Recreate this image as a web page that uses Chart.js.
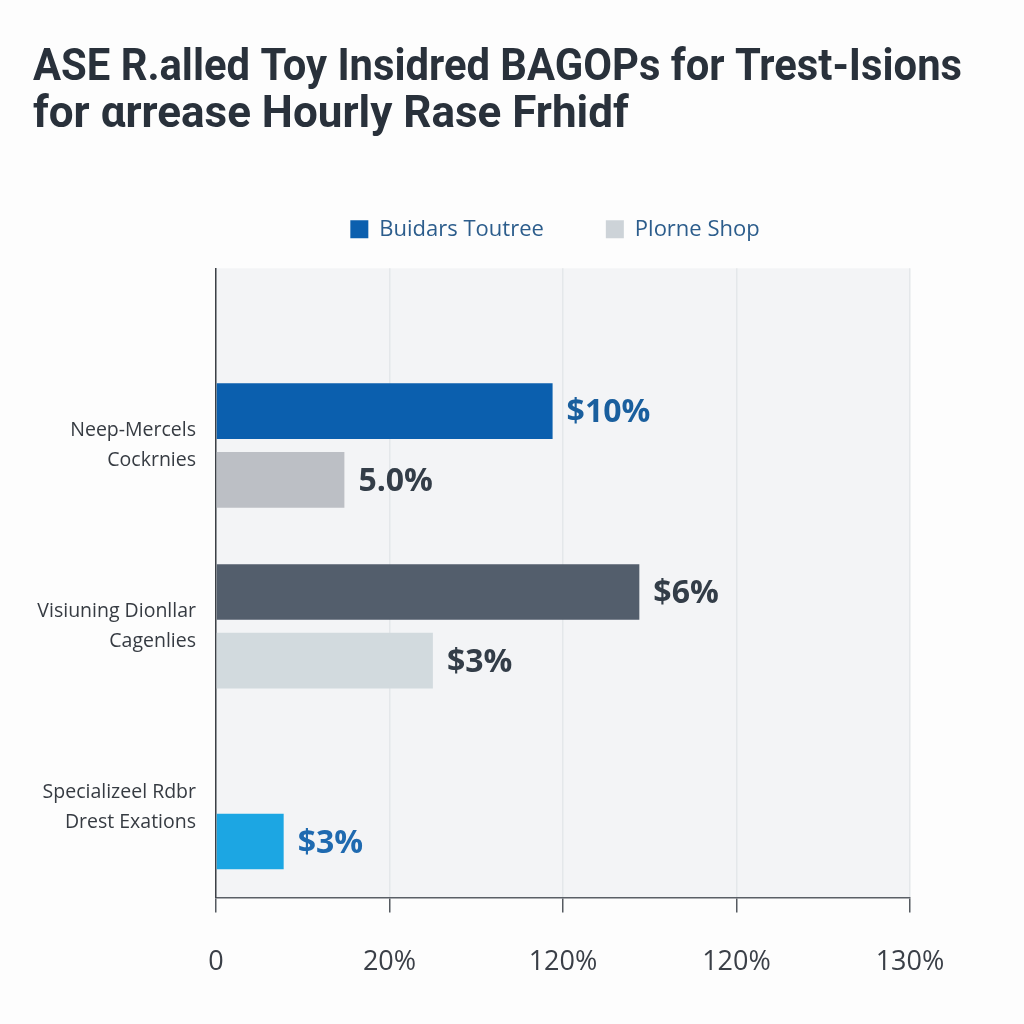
<!DOCTYPE html>
<html>
<head>
<meta charset="utf-8">
<script src="https://cdn.jsdelivr.net/npm/chart.js@4"></script>
<style>
  html, body { margin: 0; padding: 0; background: #fdfdfd; }
  #wrap { width: 1024px; height: 1024px; }
</style>
</head>
<body>
<div id="wrap"><canvas id="chart" width="1024" height="1024"></canvas></div>
<script>
// categories (two-line labels)
const categories = [
  ['Neep-Mercels', 'Cockrnies'],
  ['Visiuning Dionllar', 'Cagenlies'],
  ['Specializeel Rdbr', 'Drest Exations']
];
const seriesNames = ['Buidars Toutree', 'Plorne Shop'];
const legendColors = ['#0b5fae', '#cdd3d8'];

// values in axis units (one unit per tick)
const seriesA = [1.94, 2.44, null];
const seriesB = [0.74, 1.25, 0.39];
const colorsA = ['#0b5fae', '#535e6c', '#0b5fae'];
const colorsB = ['#bcbfc5', '#d2dade', '#1ca6e3'];

// value labels next to the bars
const labelsA = ['$10%', '$6%', ''];
const labelsB = ['5.0%', '$3%', '$3%'];
const labelColorsA = ['#1a5f9e', '#333d48', '#333d48'];
const labelColorsB = ['#333d48', '#333d48', '#1f6ab0'];

// x tick labels as printed
const xTickLabels = ['0', '20%', '120%', '120%', '130%'];

const titleLines = [
  'ASE R.alled Toy Insidred BAGOPs for Trest-Isions',
  'for \u03b1rrease Hourly Rase Frhidf'
];

// grey plot background
const plotBg = {
  id: 'plotBg',
  beforeDraw(chart) {
    const { ctx, chartArea: a } = chart;
    ctx.save();
    ctx.fillStyle = '#f3f4f6';
    ctx.fillRect(a.left, a.top, a.right - a.left, a.bottom - a.top);
    ctx.restore();
  }
};

// legend over the plot centre, title allowed to run past the plot
const boxShift = {
  id: 'boxShift',
  afterLayout(chart) {
    const L = chart.legend;
    if (L) {
      const dx = 555 - (L.left + L.right) / 2;
      L.left += dx; L.right += dx;
      L.top -= 18; L.bottom -= 18;
    }
    const T = chart.titleBlock;
    if (T) { T.right = 962; T.width = T.right - T.left; }
  }
};

// value text at bar ends
const barLabels = {
  id: 'barLabels',
  afterDatasetsDraw(chart) {
    const { ctx } = chart;
    const texts = [labelsA, labelsB];
    const cols = [labelColorsA, labelColorsB];
    ctx.save();
    ctx.font = 'bold 32px "Open Sans", sans-serif';
    ctx.textBaseline = 'middle';
    ctx.textAlign = 'left';
    chart.data.datasets.forEach((ds, di) => {
      chart.getDatasetMeta(di).data.forEach((bar, i) => {
        const t = texts[di][i];
        if (!t || ds.data[i].x == null) return;
        ctx.fillStyle = cols[di][i];
        ctx.fillText(t, bar.x + 14, bar.y + 2);
      });
    });
    ctx.restore();
  }
};

const toPoints = arr => arr.map((v, i) => ({ x: v, y: i }));

new Chart(document.getElementById('chart'), {
  type: 'bar',
  data: {
    datasets: [
      {
        label: seriesNames[0],
        data: toPoints(seriesA),
        backgroundColor: colorsA,
        categoryPercentage: 0.76,
        barPercentage: 0.81
      },
      {
        label: seriesNames[1],
        data: toPoints(seriesB),
        backgroundColor: colorsB,
        categoryPercentage: 0.76,
        barPercentage: 0.81
      }
    ]
  },
  options: {
    indexAxis: 'y',
    responsive: false,
    animation: false,
    layout: { padding: { top: 46, right: 114, bottom: 11, left: 33 } },
    plugins: {
      title: {
        display: true,
        text: titleLines,
        align: 'start',
        color: '#29313b',
        font: { family: '"Roboto", sans-serif', size: 44, weight: 'bold', lineHeight: 1.06 },
        padding: { top: 0, bottom: 35 }
      },
      legend: {
        display: true,
        labels: {
          boxWidth: 18,
          boxHeight: 18,
          padding: 62,
          color: '#2c5d8c',
          font: { family: '"Open Sans", sans-serif', size: 22 },
          generateLabels: chart => seriesNames.map((n, i) => ({
            text: n,
            fillStyle: legendColors[i],
            strokeStyle: legendColors[i],
            lineWidth: 0,
            fontColor: '#2c5d8c',
            datasetIndex: i
          }))
        }
      },
      tooltip: { enabled: false }
    },
    scales: {
      x: {
        type: 'linear',
        min: 0,
        max: 4,
        ticks: {
          stepSize: 1,
          padding: 34,
          color: '#3a3f47',
          font: { family: '"Open Sans", sans-serif', size: 27 },
          callback: v => xTickLabels[v] ?? ''
        },
        grid: { color: '#e4e7ea', tickColor: '#555a60', tickLength: 15, lineWidth: 1.5 },
        border: { display: true, color: '#5a5f66', width: 1.5 }
      },
      y: {
        type: 'linear',
        reverse: true,
        offset: false,
        min: -0.98,
        max: 2.5,
        afterFit: s => { s.width = 183; },
        afterBuildTicks: s => { s.ticks = s.ticks.filter(t => Number.isInteger(t.value)); },
        ticks: {
          stepSize: 1,
          autoSkip: false,
          padding: 12,
          color: '#363b42',
          font: { family: '"Open Sans", sans-serif', size: 19.5, lineHeight: 1.55 },
          callback: v => (Number.isInteger(v) && categories[v]) ? categories[v] : ''
        },
        grid: { display: false },
        border: { display: true, color: '#3c4046', width: 1.5 }
      }
    }
  },
  plugins: [plotBg, boxShift, barLabels]
});
</script>
</body>
</html>
